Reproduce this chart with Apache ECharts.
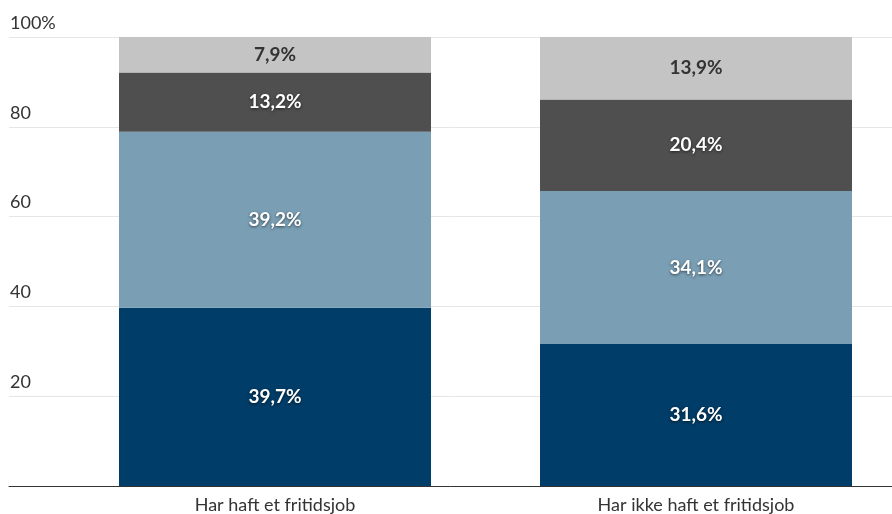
<!DOCTYPE html>
<html>
<head>
<meta charset="utf-8">
<script src="https://cdn.jsdelivr.net/npm/echarts@6/dist/echarts.min.js"></script>
<style>
  html, body { margin: 0; padding: 0; background: #fff; }
  #chart { width: 892px; height: 514px; }
</style>
</head>
<body>
<div id="chart"></div>
<script>
var categories = ['Har haft et fritidsjob', 'Har ikke haft et fritidsjob'];
var yTicks = [0, 20, 40, 60, 80, 100];
// stablede andele, nederst først
var seg1 = [39.7, 31.6];
var seg2 = [39.2, 34.1];
var seg3 = [13.2, 20.4];
var seg4 = [7.9, 13.9];

var chart = echarts.init(document.getElementById('chart'));

function fmt(p) {
  return p.value.toFixed(1).replace('.', ',') + '%';
}

var lightLabel = {
  show: true, formatter: fmt, color: '#fff', fontFamily: 'Lato', fontWeight: 'bold', fontSize: 19,
  textShadowColor: 'rgba(0,0,0,0.6)', textShadowBlur: 3, textShadowOffsetY: 1
};
var darkLabel = {
  show: true, formatter: fmt, color: '#333', fontFamily: 'Lato', fontWeight: 'bold', fontSize: 19
};

var option = {
  animation: false,
  grid: [
    { left: 9, right: 0, top: 37, bottom: 28 },      // rutenett og y-akse
    { left: 64.5, width: 842, top: 37, bottom: 28, outerBoundsMode: 'none', containLabel: false }     // søylene
  ],
  xAxis: [
    {
      gridIndex: 0, type: 'value', min: 0, max: 1,
      axisLine: { show: true, onZero: false, lineStyle: { color: '#333', width: 1 } },
      axisTick: { show: false }, axisLabel: { show: false }, splitLine: { show: false }
    },
    {
      gridIndex: 1, type: 'category', data: categories,
      axisLine: { show: false }, axisTick: { show: false },
      axisLabel: { color: '#333', fontFamily: 'Lato', fontSize: 18, margin: 10 }
    }
  ],
  yAxis: [
    {
      gridIndex: 0, type: 'value', min: 0, max: 100, interval: 20,
      axisLine: { show: false }, axisTick: { show: false },
      splitLine: { lineStyle: { color: '#e6e6e6', width: 1 } },
      axisLabel: {
        inside: true, margin: 1, align: 'left', verticalAlign: 'bottom',
        padding: [0, 0, 5, 0], color: '#333', fontFamily: 'Lato', fontSize: 18,
        formatter: function (v) { return v === 0 ? '' : (v === 100 ? v + '%' : v); }
      }
    },
    {
      gridIndex: 1, type: 'value', min: 0, max: 100, show: false
    }
  ],
  series: [
    { type: 'bar', stack: 's', xAxisIndex: 1, yAxisIndex: 1, barWidth: 312, data: seg1,
      itemStyle: { color: '#003d68' }, label: lightLabel },
    { type: 'bar', stack: 's', xAxisIndex: 1, yAxisIndex: 1, barWidth: 312, data: seg2,
      itemStyle: { color: '#7a9fb5' }, label: lightLabel },
    { type: 'bar', stack: 's', xAxisIndex: 1, yAxisIndex: 1, barWidth: 312, data: seg3,
      itemStyle: { color: '#4f4f4f' }, label: lightLabel },
    { type: 'bar', stack: 's', xAxisIndex: 1, yAxisIndex: 1, barWidth: 312, data: seg4,
      itemStyle: { color: '#c4c4c4' }, label: darkLabel }
  ]
};

option && chart.setOption(option);
</script>
</body>
</html>
